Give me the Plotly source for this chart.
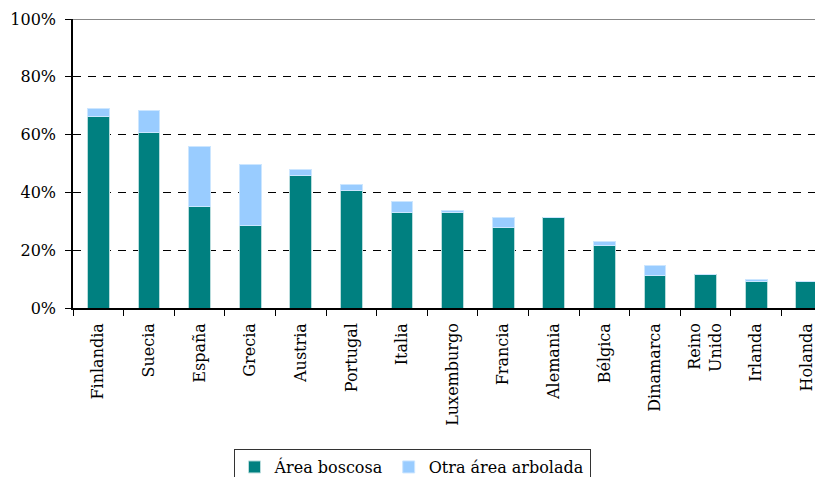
import plotly.graph_objects as go

countries = ["Finlandia", "Suecia", "España", "Grecia", "Austria", "Portugal", "Italia",
             "Luxemburgo", "Francia", "Alemania", "Bélgica", "Dinamarca", "Reino<br>Unido",
             "Irlanda", "Holanda"]
boscosa = [66.4, 60.6, 35.0, 28.4, 45.7, 40.8, 33.2, 33.0, 27.8, 31.4, 21.6, 11.1, 11.5, 9.0, 9.0]
otra = [2.5, 7.9, 21.0, 21.1, 2.1, 1.8, 3.5, 0.8, 3.6, 0.0, 1.5, 3.5, 0.0, 0.9, 0.0]
y_ticks = [0, 20, 40, 60, 80, 100]

FONT = "DejaVu Serif"

fig = go.Figure()
fig.add_trace(go.Bar(x=countries, y=boscosa, name="Área boscosa",
                     marker=dict(color="#008080", line=dict(color="#b8dcdc", width=1)),
                     width=0.43))
fig.add_trace(go.Bar(x=countries, y=otra, name="Otra área arbolada",
                     marker=dict(color="#99ccff", line=dict(color="#cce6ff", width=1)),
                     width=0.43))

fig.add_shape(type="line", xref="paper", yref="y", x0=0, x1=1, y0=100, y1=100,
              line=dict(color="#888888", width=2))

# page body has an 8px margin, so the figure is sized to fit the 823x477 window
fig.update_layout(
    width=815, height=469,
    margin=dict(l=65, r=0, t=11, b=169, autoexpand=False),
    barmode="stack",
    plot_bgcolor="white", paper_bgcolor="white",
    font=dict(family=FONT, size=16, color="black"),
    showlegend=True,
    legend=dict(orientation="h", x=0.214, y=-0.488, xanchor="left", yanchor="top",
                bordercolor="#333333", borderwidth=1, font=dict(size=16),
                traceorder="normal", itemwidth=30, tracegroupgap=0),
    xaxis=dict(range=[-0.5, 14.32], tickangle=-90, tickson="boundaries",
               ticks="outside", ticklen=6, tickcolor="black", automargin=False,
               ticklabelstandoff=7,
               showline=True, linecolor="black", linewidth=1.5,
               showgrid=False, tickfont=dict(family=FONT, size=16)),
    yaxis=dict(range=[0, 100], tickvals=y_ticks, ticktext=[f"{v}%" for v in y_ticks],
               ticks="outside", ticklen=6, tickcolor="black", automargin=False,
               ticklabelstandoff=6,
               showline=True, linecolor="black", linewidth=1.5,
               showgrid=True, gridcolor="black", gridwidth=1, griddash="8px,7px",
               zeroline=False, tickfont=dict(family=FONT, size=16)),
)

fig.write_html("out.html")
